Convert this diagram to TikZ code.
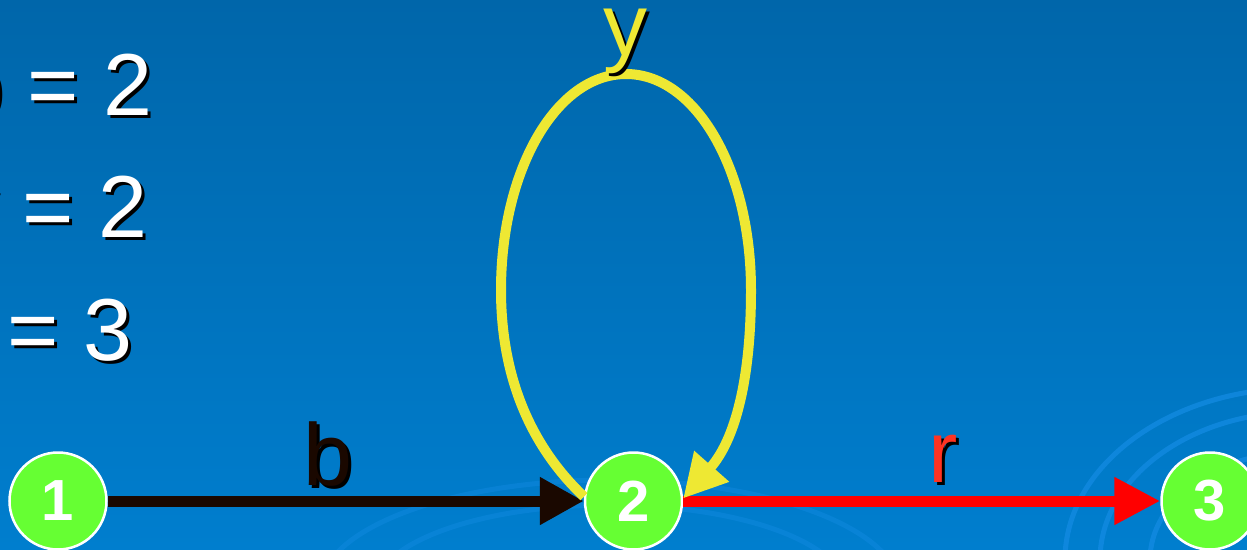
\documentclass[tikz,border=0pt]{standalone}
\usepackage{fontspec}
\setmainfont{Liberation Sans}
\usetikzlibrary{arrows.meta}
\definecolor{bgtop}{RGB}{0,102,170}
\definecolor{bgbottom}{RGB}{0,126,206}
\definecolor{swirlblue}{RGB}{20,140,228}
\definecolor{nodegreen}{RGB}{102,255,51}
\definecolor{edgeblack}{RGB}{26,8,0}
\definecolor{loopyellow}{RGB}{238,232,51}
\definecolor{labelred}{RGB}{255,51,34}

\newcommand{\dropshadow}[2]{\makebox[0pt][l]{\kern3pt\raisebox{-3pt}{\color{black}#2}}{\color{#1}#2}}

\begin{document}
\begin{tikzpicture}[
  x=1pt, y=-1pt,
  state/.style={circle, draw=white, line width=2.5pt, fill=nodegreen, minimum size=97pt, inner sep=0pt, text=white, font=\fontsize{58}{60}\selectfont\bfseries},
  eqtext/.style={anchor=base west, inner sep=0pt, font=\fontsize{88}{100}\selectfont},
  edgelabel/.style={anchor=base, inner sep=0pt, font=\fontsize{88}{100}\selectfont},
  bedge/.style={line width=11pt, draw=edgeblack, -{Triangle[length=44pt, width=45pt]}},
  redge/.style={line width=11pt, draw=red, -{Triangle[length=46pt, width=45pt]}},
  yedge/.style={line width=10pt, draw=loopyellow, -{Triangle[length=43pt, width=44pt]}},
  swirl/.style={draw=swirlblue, line width=5pt, opacity=0.7},
]
% Background
\useasboundingbox (0,0) rectangle (1247,549);
\clip (0,0) rectangle (1247,549);
\shade[top color=bgtop, bottom color=bgbottom] (0,0) rectangle (1247,549);

% Swirls
\draw[swirl] (1300,560) ellipse [x radius=235, y radius=172];
\draw[swirl] (1300,560) ellipse [x radius=200, y radius=148];
\draw[swirl] (1300,560) ellipse [x radius=150, y radius=108];
\draw[swirl, opacity=0.4] (610,590) ellipse [x radius=290, y radius=110];
\draw[swirl, opacity=0.4] (610,590) ellipse [x radius=235, y radius=85];

% Weights
\node[eqtext] (wb) at (-46,115) {\dropshadow{white}{b = 2}};
\node[eqtext] (wy) at (-46,237) {\dropshadow{white}{y = 2}};
\node[eqtext] (wr) at (-46,360) {\dropshadow{white}{r = 3}};

% States
\node[state] (n1) at (58,501) {1};
\node[state] (n2) at (633.5,501) {2};
\node[state] (n3) at (1210,501) {3};

% Edges
\draw[bedge] (n1) -- (n2);
\draw[redge] (n2) -- (n3);
\draw[yedge] (n2.175) .. controls (540,455) and (501,390) .. (501,290)
  .. controls (501,170) and (556,74) .. (626,74)
  .. controls (696,74) and (751,170) .. (751,290)
  .. controls (751,380) and (735,440) .. (n2.3);

% Edge labels
\node[edgelabel] (lb) at (328,485) {\dropshadow{edgeblack}{b}};
\node[edgelabel] (ly) at (625,55) {\dropshadow{loopyellow}{y}};
\node[edgelabel] (lr) at (943,482) {\dropshadow{labelred}{r}};
\end{tikzpicture}
\end{document}
